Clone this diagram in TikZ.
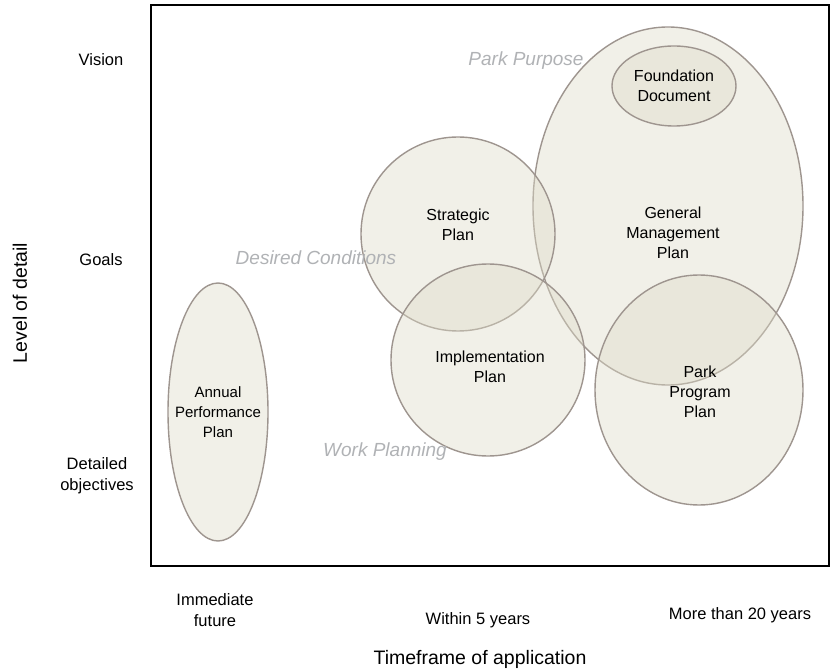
\documentclass[tikz,border=0pt]{standalone}
\usepackage{fontspec}
\setmainfont{Liberation Sans}
\usetikzlibrary{shapes.geometric}

\definecolor{planfill}{RGB}{222,219,200}
\definecolor{planline}{RGB}{158,149,143}
\definecolor{themegray}{RGB}{176,178,181}

\begin{document}
\begin{tikzpicture}[x=1pt,y=-1pt]
	\tikzstyle{every node}=[align=center,font=\fontsize{16.5}{21}\selectfont]
	\tikzstyle{plan}=[ellipse,draw=planline,line width=1.4pt,fill=planfill,fill opacity=0.42,inner sep=0pt]
	\tikzstyle{label}=[font=\fontsize{16}{20}\selectfont]
	\tikzstyle{theme}=[text=themegray,font=\fontsize{19}{22}\selectfont\itshape]
	\tikzstyle{axis}=[font=\fontsize{19.5}{22}\selectfont]

	\useasboundingbox (0,0) rectangle (833,671);
	\draw[line width=2.2pt] (151,5) rectangle (829,566);

	% plans
	\node[plan,minimum width=270pt,minimum height=358pt] (gmp) at (668,206) {};
	\node[plan,minimum width=124pt,minimum height=80pt] (fd) at (674,86) {};
	\node[plan,minimum width=208pt,minimum height=230pt] (ppp) at (699,390) {};
	\node[plan,minimum width=194pt,minimum height=194pt] (sp) at (458,234) {};
	\node[plan,minimum width=194pt,minimum height=192pt] (ip) at (488,360) {};
	\node[plan,minimum width=100pt,minimum height=258pt] (app) at (218,412) {};

	\node[label] at (673,233) {General\\Management\\Plan};
	\node[label] at (fd) {Foundation\\Document};
	\node[label] at (700,392) {Park\\Program\\Plan};
	\node[label] at (458,225) {Strategic\\Plan};
	\node[label] at (490,367) {Implementation\\Plan};
	\node[label,font=\fontsize{15}{20}\selectfont] at (app) {Annual\\Performance\\Plan};

	% themes
	\node[theme] (purpose) at (526,61) {Park Purpose};
	\node[theme] (conditions) at (316,258) {Desired Conditions};
	\node[theme] (work) at (385,452) {Work Planning};

	% level of detail
	\node (vision) at (101,60) {Vision};
	\node (goals) at (101,260) {Goals};
	\node (objectives) at (97,476) {Detailed\\objectives};
	\node[axis,rotate=90] (detail) at (20,303) {Level of detail};

	% timeframe
	\node (immediate) at (215,610) {Immediate\\future};
	\node (five) at (478,620) {Within 5 years};
	\node (twenty) at (740,615) {More than 20 years};
	\node[axis] (timeframe) at (480,659) {Timeframe of application};
\end{tikzpicture}
\end{document}
